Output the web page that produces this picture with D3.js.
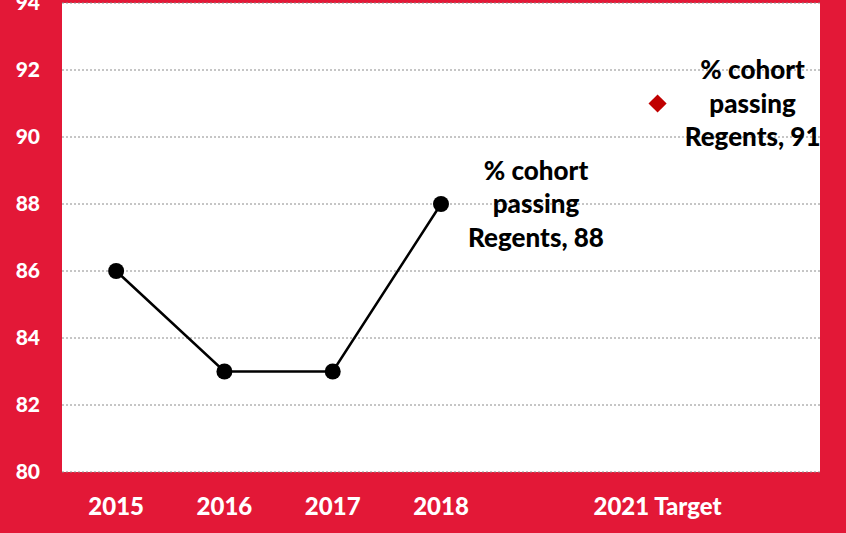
<!DOCTYPE html>
<html>
<head>
<meta charset="utf-8">
<script src="https://cdn.jsdelivr.net/npm/d3@7"></script>
<style>
  body { margin: 0; background: #e31837; }
  svg { display: block; }
  text { font-family: "Lato", "Open Sans", sans-serif; font-weight: 900; }
</style>
</head>
<body>
<svg width="846" height="533"></svg>
<script>
// chart data
var categories = ["2015", "2016", "2017", "2018", "", "2021 Target", " "];
var years = ["2015", "2016", "2017", "2018"];
var passing = [86, 83, 83, 88];
var targetCat = "2021 Target";
var targetValue = 91;
var yTicks = [80, 82, 84, 86, 88, 90, 92, 94];
var seriesName = ["% cohort", "passing", "Regents"];

var svg = d3.select("svg"),
    margin = {top: 3, right: 26, bottom: 61, left: 62},
    width = svg.attr("width") - margin.left - margin.right,
    height = svg.attr("height") - margin.top - margin.bottom;

svg.append("rect")
    .attr("width", 846).attr("height", 533)
    .attr("fill", "#e31837");

var g = svg.append("g").attr("transform", "translate(" + margin.left + "," + margin.top + ")");

var x = d3.scaleBand().domain(categories).range([0, width]),
    y = d3.scaleLinear().domain([80, 94]).range([height, 0]);

function cx(c) { return x(c) + x.bandwidth() / 2; }

g.append("rect")
    .attr("width", width).attr("height", height)
    .attr("fill", "#fff");

// gridlines
g.selectAll(".grid")
    .data(yTicks)
  .enter().append("line")
    .attr("x1", 0).attr("x2", width)
    .attr("y1", function(d) { return y(d); })
    .attr("y2", function(d) { return y(d); })
    .attr("stroke", "#8c8c8c")
    .attr("stroke-width", 1)
    .attr("stroke-dasharray", "2,2");

// y axis
var yAxis = g.append("g")
    .call(d3.axisLeft(y).tickValues(yTicks).tickSize(0).tickPadding(22));
yAxis.select(".domain").remove();
yAxis.selectAll("text")
    .attr("fill", "#fff")
    .style("font-size", "21px");

// x axis
var xAxis = g.append("g")
    .attr("transform", "translate(0," + height + ")")
    .call(d3.axisBottom(x).tickSize(0).tickPadding(26));
xAxis.select(".domain").remove();
xAxis.selectAll("text")
    .attr("fill", "#fff")
    .style("font-size", "24px");

// line
var pts = years.map(function(d, i) { return {cat: d, v: passing[i]}; });
var line = d3.line()
    .x(function(d) { return cx(d.cat); })
    .y(function(d) { return y(d.v); });

g.append("path")
    .datum(pts)
    .attr("d", line)
    .attr("fill", "none")
    .attr("stroke", "#000")
    .attr("stroke-width", 2.5);

g.selectAll(".dot")
    .data(pts)
  .enter().append("circle")
    .attr("cx", function(d) { return cx(d.cat); })
    .attr("cy", function(d) { return y(d.v); })
    .attr("r", 8)
    .attr("fill", "#000");

// target diamond
g.append("path")
    .attr("d", d3.symbol().type(d3.symbolDiamond2).size(210))
    .attr("transform", "translate(" + cx(targetCat) + "," + y(targetValue) + ")")
    .attr("fill", "#c00000");

// labels
function label(px, py, value) {
  var lines = [seriesName[0], seriesName[1], seriesName[2] + ", " + value];
  var t = g.append("text")
      .attr("text-anchor", "middle")
      .attr("fill", "#000")
      .style("font-size", "26px");
  lines.forEach(function(s, i) {
    t.append("tspan")
        .attr("x", px + 95)
        .attr("y", py + (i - 1) * 33.5)
        .attr("dy", "0.35em")
        .text(s);
  });
}
label(cx("2018"), y(88), 88);
label(cx(targetCat), y(targetValue), targetValue);
</script>
</body>
</html>
